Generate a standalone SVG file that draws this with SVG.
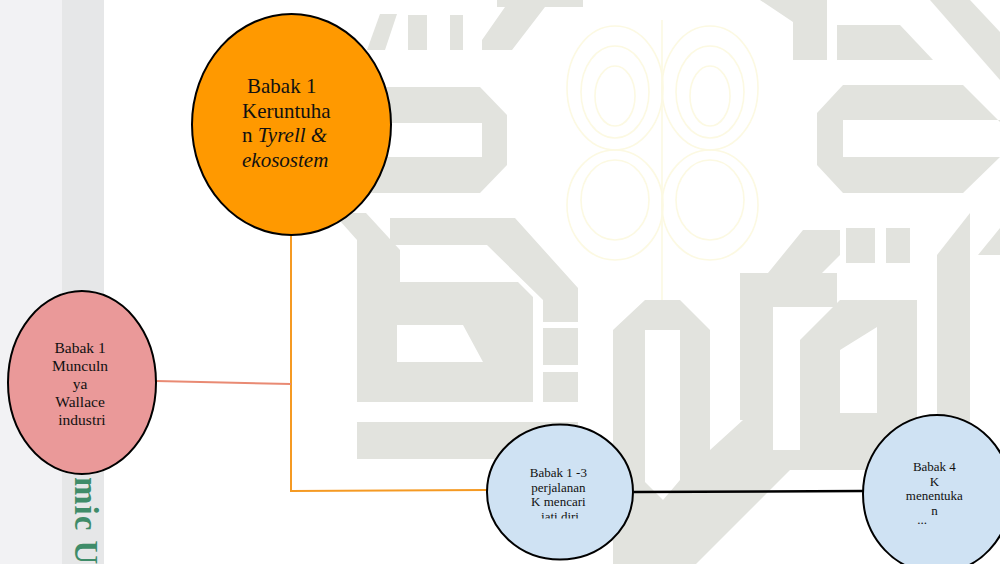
<svg xmlns="http://www.w3.org/2000/svg" width="1000" height="564" viewBox="0 0 1000 564">
  <defs>
    <style>
      .wm { fill: #e2e3de; stroke: none; }
      .orn { fill: none; stroke: #fcf9e2; stroke-width: 1.6; }
      .node { stroke: #000000; stroke-width: 2; }
      .lbl { font-family: "Liberation Serif", "Times New Roman", serif; fill: #111111; }
      .conn { fill: none; }
    </style>
    <clipPath id="clip3"><rect x="480" y="420" width="160" height="98.5"/></clipPath>
    <clipPath id="clip4"><rect x="860" y="410" width="140" height="114.5"/></clipPath>
  </defs>

  <!-- background -->
  <rect x="0" y="0" width="1000" height="564" fill="#ffffff"/>
  <rect x="0" y="0" width="62" height="564" fill="#f2f2f4"/>
  <rect x="62" y="0" width="42" height="564" fill="#e6e7e8"/>
  <text transform="translate(75,477) rotate(90)" font-family="Liberation Serif, serif" font-size="33" font-weight="bold" letter-spacing="1" fill="#3f8c69">mic U</text>

  <!-- faint ornament -->
  <g id="ornament" class="orn">
    <ellipse cx="615" cy="88" rx="48" ry="62"/>
    <ellipse cx="615" cy="92" rx="34" ry="46"/>
    <ellipse cx="615" cy="96" rx="20" ry="30"/>
    <ellipse cx="710" cy="88" rx="48" ry="62"/>
    <ellipse cx="710" cy="92" rx="34" ry="46"/>
    <ellipse cx="710" cy="96" rx="20" ry="30"/>
    <ellipse cx="615" cy="205" rx="48" ry="55"/>
    <ellipse cx="615" cy="200" rx="34" ry="40"/>
    <ellipse cx="710" cy="205" rx="48" ry="55"/>
    <ellipse cx="710" cy="200" rx="34" ry="40"/>
    <path d="M662,20 L662,308"/>
  </g>

  <!-- watermark shapes -->
  <g id="watermark" class="wm">
    <rect x="408" y="15" width="19" height="35"/>
    <rect x="450" y="15" width="13" height="35"/>
    <polygon points="367,50 385,50 397,14 380,14"/>
    <polygon points="497,0 583,0 583,7 545,7 512,50 482,50 482,40 505,7 497,7"/>
    <path fill-rule="evenodd" d="M340,87 L480,87 L507,115 L507,165 L480,193 L340,193 Z M340,123 L482,123 L482,157 L340,157 Z"/>
    <polygon points="333,213 366,213 400,250 400,282 357,282 357,240"/>
    <rect x="390" y="218" width="97" height="27"/>
    <polygon points="487,218 515,218 578,288 578,322 543,322 543,300 487,245"/>
    <path fill-rule="evenodd" d="M357,282 L518,282 L533,297 L533,402 L357,402 Z M397,325 L463,325 L483,362 L397,362 Z"/>
    <rect x="543" y="328" width="35" height="37"/>
    <rect x="543" y="372" width="35" height="30"/>
    <rect x="357" y="422" width="221" height="37"/>
    <path fill-rule="evenodd" d="M613,330 L645,300 L680,300 L710,330 L710,450 L743,420 L773,420 L773,450 L970,450 L970,470 L790,470 L696,564 L613,564 Z M645,330 L680,330 L680,480 L663,500 L645,482 Z"/>
    <polygon points="740,273 768,273 803,230 840,230 840,255 822,273 837,273 837,307 773,307 773,420 740,420"/>
    <rect x="846" y="228" width="29" height="35"/>
    <rect x="886" y="228" width="24" height="35"/>
    <path fill-rule="evenodd" d="M800,340 L840,300 L917,300 L917,450 L800,450 Z M840,350 L877,327 L877,413 L840,413 Z"/>
    <polygon points="937,255 970,213 970,450 937,450"/>
    <polygon points="978,255 1000,228 1000,255"/>
    <polygon points="760,0 827,0 827,60 793,60 793,22"/>
    <polygon points="837,25 900,25 933,60 837,60"/>
    <polygon points="930,0 970,0 1000,32 1000,80"/>
    <path fill-rule="evenodd" d="M843,85 L963,85 L1000,122 L1000,157 L963,193 L843,193 L817,165 L817,113 Z M843,120 L1000,120 L1000,157 L843,157 Z"/>
  </g>

  <!-- connectors -->
  <g id="connectors" class="conn">
    <polyline points="291,235 291,491 487,490" stroke="#f59a23" stroke-width="2"/>
    <line x1="156" y1="381" x2="291" y2="384" stroke="#e98a73" stroke-width="2"/>
    <line x1="634" y1="492" x2="863" y2="491" stroke="#000000" stroke-width="2.5"/>
  </g>

  <!-- nodes -->
  <g id="node-keruntuhan">
    <ellipse class="node" cx="291.5" cy="124.5" rx="99.5" ry="110.5" fill="#ff9900"/>
    <text class="lbl" font-size="21">
      <tspan x="247" y="93">Babak 1</tspan>
      <tspan x="242" y="117.5">Keruntuha</tspan>
      <tspan x="242" y="142">n <tspan font-style="italic">Tyrell &amp;</tspan></tspan>
      <tspan x="242" y="166.5" font-style="italic">ekosostem</tspan>
    </text>
  </g>

  <g id="node-wallace">
    <ellipse class="node" cx="82" cy="382.5" rx="74" ry="91.5" fill="#ea9999"/>
    <text class="lbl" font-size="15.5" text-anchor="middle">
      <tspan x="82" y="353">Babak 1</tspan>
      <tspan x="82" y="371">Munculn</tspan>
      <tspan x="82" y="389">ya</tspan>
      <tspan x="82" y="407">Wallace</tspan>
      <tspan x="82" y="425">industri</tspan>
    </text>
  </g>

  <g id="node-perjalanan">
    <ellipse class="node" cx="560" cy="492" rx="73" ry="67.5" fill="#cfe2f3"/>
    <text class="lbl" font-size="13" text-anchor="middle" clip-path="url(#clip3)">
      <tspan x="560" y="477">Babak 1 -3</tspan>
      <tspan x="560" y="491.5">perjalanan</tspan>
      <tspan x="560" y="506">K mencari</tspan>
      <tspan x="560" y="521">jati diri</tspan>
    </text>
  </g>

  <g id="node-menentukan">
    <ellipse class="node" cx="937" cy="494" rx="74" ry="79" fill="#cfe2f3"/>
    <text class="lbl" font-size="13" text-anchor="middle" clip-path="url(#clip4)">
      <tspan x="936" y="471">Babak 4</tspan>
      <tspan x="936" y="486">K</tspan>
      <tspan x="936" y="500">menentuka</tspan>
      <tspan x="936" y="515">n</tspan>
      <tspan x="922" y="524">...</tspan>
    </text>
  </g>
</svg>
